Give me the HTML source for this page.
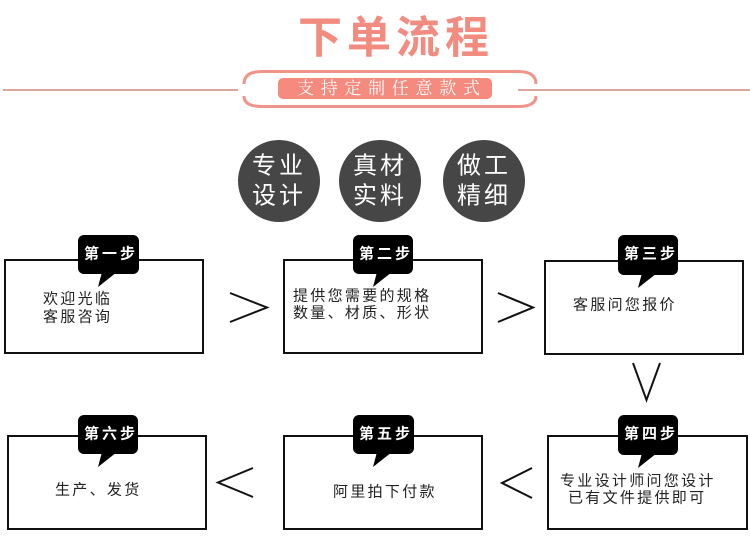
<!DOCTYPE html>
<html>
<head>
<meta charset="utf-8">
<style>
  html, body { margin: 0; padding: 0; background: #fff; }
  body { width: 750px; height: 560px; overflow: hidden; position: relative; }
  svg { position: absolute; left: 0; top: 0; }
  .t { font-family: "Liberation Sans", "Noto Sans CJK SC", sans-serif; font-size: 15px; fill: #222; letter-spacing: 2.3px; }
  .tag { font-family: "Liberation Sans", "Noto Sans CJK SC", sans-serif; font-size: 15px; font-weight: bold; fill: #fff; letter-spacing: 3px; }
  .c { font-family: "Liberation Sans", "Noto Sans CJK SC", sans-serif; font-size: 24px; fill: #fff; letter-spacing: 3px; }
</style>
</head>
<body>
<svg width="750" height="560" viewBox="0 0 750 560" xmlns="http://www.w3.org/2000/svg">
  <!-- Title -->
  <text x="396" y="38" text-anchor="middle" dominant-baseline="central" font-family="Liberation Sans, Noto Sans CJK SC, sans-serif" font-size="44" font-weight="bold" fill="#f28c80" letter-spacing="5">下单流程</text>

  <!-- header lines -->
  <line x1="3" y1="90" x2="238" y2="90" stroke="#dfa49c" stroke-width="2"/>
  <line x1="518" y1="90" x2="750" y2="90" stroke="#dfa49c" stroke-width="2"/>
  <!-- frame -->
  <path d="M244 84 Q244 71.5 262 71.5 L518 71.5 Q536 71.5 536 84" fill="none" stroke="#f0948a" stroke-width="3"/>
  <path d="M244 96 Q244 106.5 262 106.5 L518 106.5 Q536 106.5 536 96" fill="none" stroke="#f0948a" stroke-width="3"/>
  <rect x="278" y="78" width="214" height="21" rx="5" fill="#f58a7e"/>
  <text x="297" y="88.5" dominant-baseline="central" font-family="Liberation Serif, Noto Serif CJK SC, serif" font-size="17" fill="#fff" letter-spacing="6.7">支持定制任意款式</text>

  <!-- circles -->
  <circle cx="279" cy="181" r="41" fill="#464646"/>
  <circle cx="380" cy="181" r="41" fill="#464646"/>
  <circle cx="484" cy="181" r="41" fill="#464646"/>
  <text class="c" x="252" y="166" dominant-baseline="central">专业</text>
  <text class="c" x="252" y="196" dominant-baseline="central">设计</text>
  <text class="c" x="353" y="166" dominant-baseline="central">真材</text>
  <text class="c" x="353" y="196" dominant-baseline="central">实料</text>
  <text class="c" x="457" y="166" dominant-baseline="central">做工</text>
  <text class="c" x="457" y="196" dominant-baseline="central">精细</text>

  <!-- boxes -->
  <g fill="none" stroke="#111" stroke-width="2">
    <rect x="5" y="260" width="198" height="93"/>
    <rect x="284" y="260" width="198" height="93"/>
    <rect x="545" y="261" width="198" height="93"/>
    <rect x="548" y="436" width="199" height="93"/>
    <rect x="284" y="436" width="198" height="93"/>
    <rect x="8" y="436" width="198" height="93"/>
  </g>

  <!-- tags -->
  <g fill="#000">
    <rect x="78" y="235" width="61" height="39" rx="6"/>
    <polygon points="102,272 117,272 98,287"/>
    <rect x="353" y="235" width="60" height="39" rx="6"/>
    <polygon points="377,272 392,272 373,287"/>
    <rect x="618" y="235" width="60" height="40" rx="6"/>
    <polygon points="642,273 657,273 638,288"/>
    <rect x="618" y="415" width="60" height="40" rx="6"/>
    <polygon points="642,453 657,453 638,468"/>
    <rect x="353" y="415" width="61" height="39" rx="6"/>
    <polygon points="377,452 392,452 373,467"/>
    <rect x="78" y="415" width="60" height="39" rx="6"/>
    <polygon points="102,452 117,452 98,467"/>
  </g>
  <text class="tag" x="84" y="254" dominant-baseline="central">第一步</text>
  <text class="tag" x="359" y="254" dominant-baseline="central">第二步</text>
  <text class="tag" x="624" y="254" dominant-baseline="central">第三步</text>
  <text class="tag" x="624" y="434" dominant-baseline="central">第四步</text>
  <text class="tag" x="359" y="434" dominant-baseline="central">第五步</text>
  <text class="tag" x="84" y="434" dominant-baseline="central">第六步</text>

  <!-- box texts -->
  <text class="t" x="43" y="299" dominant-baseline="central">欢迎光临</text>
  <text class="t" x="43" y="317" dominant-baseline="central">客服咨询</text>
  <text class="t" x="293" y="296" dominant-baseline="central">提供您需要的规格</text>
  <text class="t" x="293" y="313" dominant-baseline="central">数量、材质、形状</text>
  <text class="t" x="573" y="305" dominant-baseline="central" letter-spacing="2.6">客服问您报价</text>
  <text class="t" x="560" y="481" dominant-baseline="central">专业设计师问您设计</text>
  <text class="t" x="568" y="498" dominant-baseline="central">已有文件提供即可</text>
  <text class="t" x="333" y="492" dominant-baseline="central">阿里拍下付款</text>
  <text class="t" x="55" y="490" dominant-baseline="central" letter-spacing="2.8">生产、发货</text>

  <!-- arrows -->
  <g fill="none" stroke="#111" stroke-width="2" stroke-linejoin="miter">
    <polyline points="230,293 267,307.5 230,322"/>
    <polyline points="498,293 533,307.5 498,322"/>
    <polyline points="633,363 646.5,400 660,363"/>
    <polyline points="532,468 502,483 532,498"/>
    <polyline points="253,468 218,482.5 253,497"/>
  </g>
</svg>
</body>
</html>
